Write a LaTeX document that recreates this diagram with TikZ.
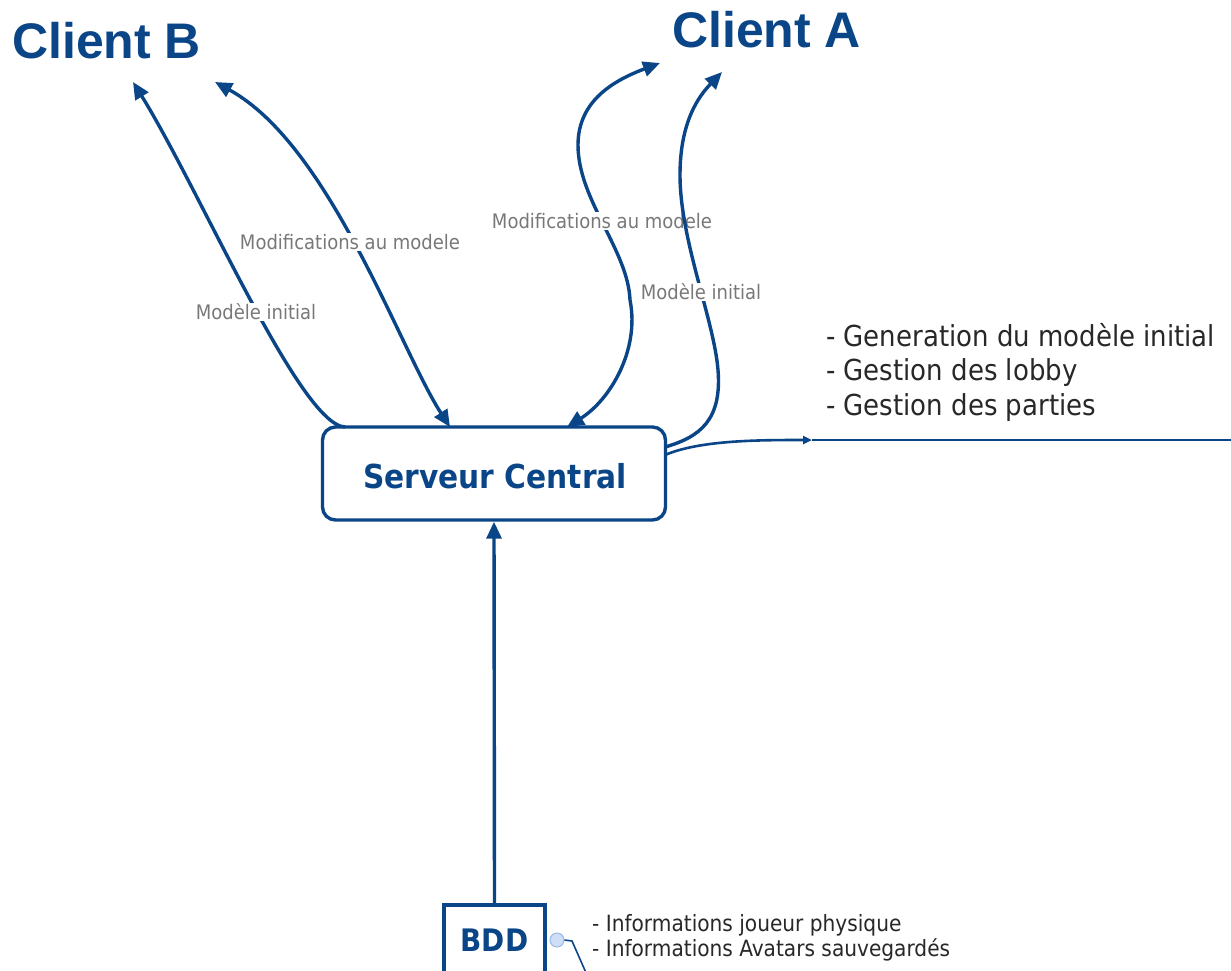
\documentclass[tikz,border=0pt]{standalone}
\usepackage{fontspec}
\setmainfont{DejaVu Sans}
\newfontfamily\condfont{DejaVu Sans Condensed}
\newfontfamily\headfont{Liberation Sans}
\usetikzlibrary{arrows.meta}
\definecolor{navy}{RGB}{10,70,135}
\definecolor{labgrey}{RGB}{120,120,120}
\definecolor{txtdark}{RGB}{40,40,40}
\definecolor{dotfill}{RGB}{205,222,245}
\definecolor{dotline}{RGB}{150,185,230}
\tikzset{
  flow/.style={draw=navy, line width=3.4pt},
  tip/.style={-{Triangle[length=17pt,width=15pt]}},
  twotip/.style={{Triangle[length=17pt,width=15pt]}-{Triangle[length=17pt,width=15pt]}},
  client/.style={text=navy, font=\headfont\bfseries\fontsize{50}{50}\selectfont, inner sep=0pt},
  srvbox/.style={draw=navy, line width=3.4pt, rounded corners=13pt, fill=white,
    minimum width=343pt, minimum height=93pt, inner sep=0pt},
  bddbox/.style={draw=navy, line width=3.4pt, fill=white,
    minimum width=101pt, minimum height=80pt, inner sep=0pt},
  boxtext/.style={text=navy, font=\condfont\bfseries\fontsize{31}{31}\selectfont, inner sep=0pt},
  flowlabel/.style={text=labgrey, fill=white, inner sep=1pt,
    font=\condfont\fontsize{20}{20}\selectfont},
  notes/.style={text=txtdark, align=left, inner sep=0pt, anchor=west},
}
\begin{document}
\begin{tikzpicture}[x=1pt,y=-1pt]
\useasboundingbox[fill=white] (0,0) rectangle (1231,970);

% Titles of the two clients
\node[client, anchor=base west] (clientB) at (12,58) {Client B};
\node[client, anchor=base west] (clientA) at (672,47) {Client A};

% Central server and database
\node[srvbox] (srv) at (494,473.5) {};
\node[boxtext, font=\condfont\bfseries\fontsize{33}{33}\selectfont] (srvtxt) at (495,476) {Serveur Central};
\node[bddbox] (bdd) at (494.5,945) {};
\node[boxtext] (bddtxt) at (494.5,940) {BDD};

% End points of the flows
\coordinate (b1s) at (345,427);
\coordinate (b1e) at (133,82);
\coordinate (b2s) at (450,427);
\coordinate (b2e) at (215,82);
\coordinate (a1s) at (567,427);
\coordinate (a1e) at (660,63);
\coordinate (a2s) at (665,447);
\coordinate (a2e) at (722,72);
\coordinate (rs) at (665,455);
\coordinate (rm) at (812,440);
\coordinate (re) at (1231,440);

% Client B: initial model
\draw[flow, tip] (b1s) .. controls (300,425) and (200,190) .. (b1e);
\node[flowlabel] (lb1) at (256,312) {Modèle initial};
% Client B: model updates
\draw[flow, twotip] (b2s) .. controls (400,350) and (330,145) .. (b2e);
\node[flowlabel] (lb2) at (350,242) {Modifications au modele};

% Client A: model updates
\draw[flow, twotip] (a1s) .. controls (610,400) and (640,350) .. (630,300)
  .. controls (628,250) and (578,200) .. (578,145)
  .. controls (578,100) and (615,80) .. (a1e);
\node[flowlabel] (la1) at (602,221) {Modifications au modele};
% Client A: initial model
\draw[flow, tip] (a2s) .. controls (700,437) and (722,420) .. (718,370)
  .. controls (714,320) and (680,240) .. (680,175)
  .. controls (680,120) and (700,95) .. (a2e);
\node[flowlabel] (la2) at (701,292) {Modèle initial};

% Server tasks
\draw[draw=navy, line width=2.6pt, -{Triangle[length=9pt,width=8pt]}]
  (rs) .. controls (700,440) and (760,440) .. (rm);
\draw[draw=navy, line width=2.6pt] (rm) -- (re);
\node[notes, font=\condfont\fontsize{28.9}{34.5}\selectfont] (tasks) at (826,372)
  {- Generation du modèle initial\\- Gestion des lobby\\- Gestion des parties};

% Database feeds the server
\draw[flow, tip] (bdd.north) -- (srv.south);

% Database note
\node[circle, draw=dotline, fill=dotfill, line width=1pt, minimum size=14pt, inner sep=0pt] (dot) at (557,940) {};
\coordinate (dotbend) at (572,941);
\coordinate (dotend) at (587,975);
\draw[navy, line width=1.6pt] (dot.east) -- (dotbend) -- (dotend);
\node[notes, font=\condfont\fontsize{22.4}{25}\selectfont] (bddnote) at (592,937.5)
  {- Informations joueur physique\\- Informations Avatars sauvegardés};
\end{tikzpicture}
\end{document}
